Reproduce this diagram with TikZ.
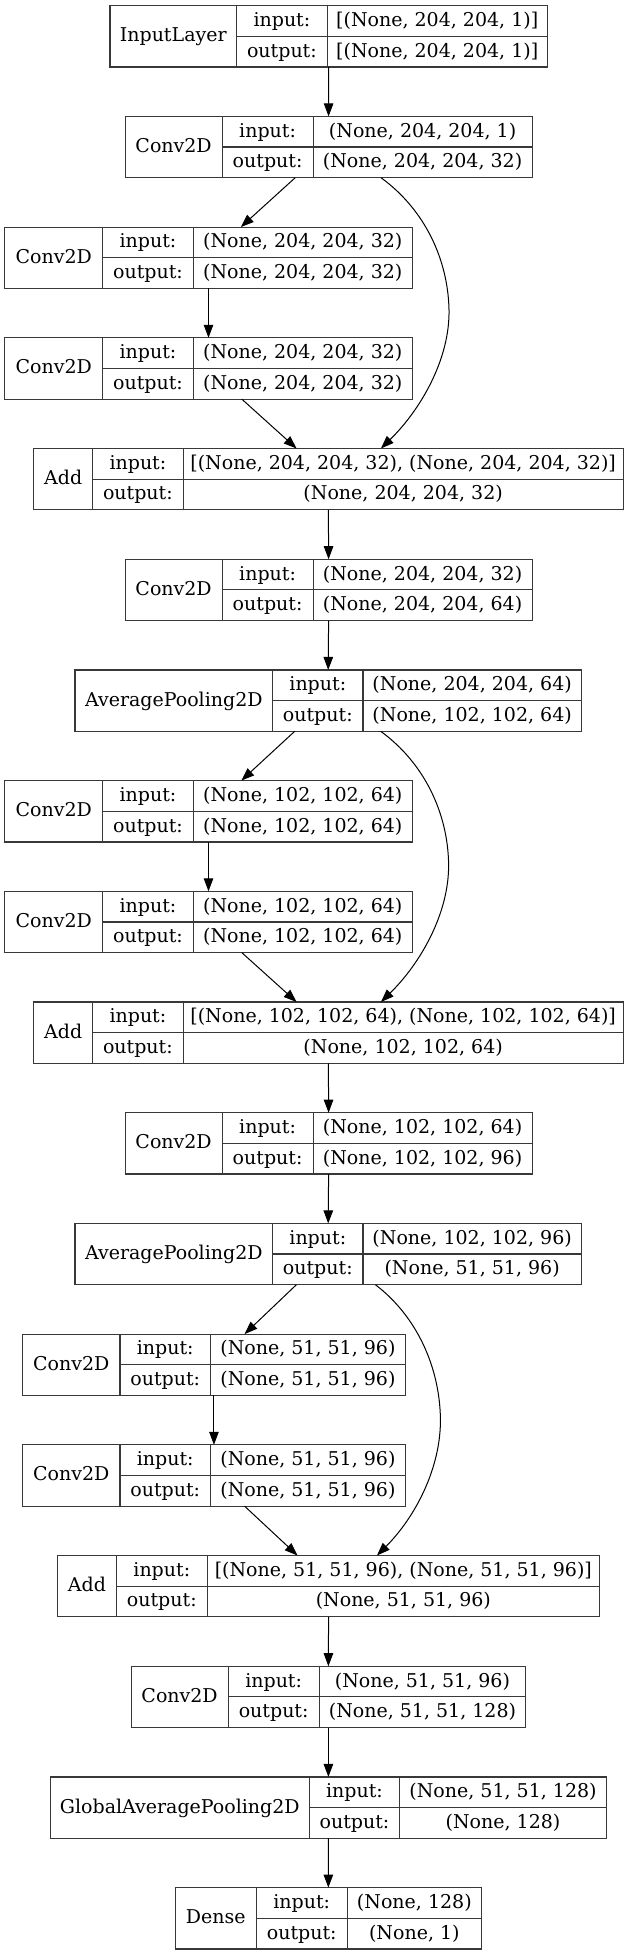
\documentclass[tikz,border=0pt]{standalone}
\usepackage{fontspec}
\setmainfont{DejaVu Serif}
\usetikzlibrary{arrows.meta,calc}
\tikzset{
  layerbox/.style={draw=black!78, line width=1.2pt, inner sep=0pt, outer sep=0pt},
  cellline/.style={draw=black!78, line width=1.2pt},
  txt/.style={inner sep=0pt, font=\fontsize{19}{22}\selectfont, text height=15pt, text depth=4pt},
  arr/.style={draw=black, line width=1pt, -{Triangle[length=13pt,width=9.5pt]}},
}
\newcommand\kerasbox[9]{%
  \pgfmathsetmacro\kt{5.7+110.7*#6}%
  \pgfmathsetmacro\kb{\kt+61.3}%
  \pgfmathsetmacro\km{\kt+30.65}%
  \pgfmathsetmacro\kra{\kt+15.3}%
  \pgfmathsetmacro\krb{\km+15.3}%
  \pgfmathsetmacro\kw{#3-#2}%
  \pgfmathsetmacro\kc{(#2+#3)/2}%
  \node[layerbox, minimum width=\kw pt, minimum height=61.3pt] (#1) at (\kc,\km) {};
  \draw[cellline] (#4,\kt) -- (#4,\kb) (#5,\kt) -- (#5,\kb) (#4,\km) -- (#3,\km);
  \node[txt] (#1-name) at ({(#2+#4)/2},\km) {#7};
  \node[txt] (#1-inl) at ({(#4+#5)/2},\kra) {input:};
  \node[txt] (#1-outl) at ({(#4+#5)/2},\krb) {output:};
  \node[txt] (#1-inv) at ({(#5+#3)/2},\kra) {#8};
  \node[txt] (#1-outv) at ({(#5+#3)/2},\krb) {#9};
}
\begin{document}
\begin{tikzpicture}[x=1pt,y=-1pt]
\useasboundingbox[fill=white] (0,0) rectangle (629,1955);
\kerasbox{L1}{109.9}{547.3}{236.6}{327.2}{0}{InputLayer}{[(None, 204, 204, 1)]}{[(None, 204, 204, 1)]}
\kerasbox{L2}{125.1}{532.1}{222.1}{313.1}{1}{Conv2D}{(None, 204, 204, 1)}{(None, 204, 204, 32)}
\kerasbox{L3}{4.8}{412.2}{102.6}{193.3}{2}{Conv2D}{(None, 204, 204, 32)}{(None, 204, 204, 32)}
\kerasbox{L4}{4.8}{412.2}{102.6}{193.3}{3}{Conv2D}{(None, 204, 204, 32)}{(None, 204, 204, 32)}
\kerasbox{L5}{33.7}{623.1}{92.6}{183.2}{4}{Add}{[(None, 204, 204, 32), (None, 204, 204, 32)]}{(None, 204, 204, 32)}
\kerasbox{L6}{125.1}{532.1}{222.1}{313.1}{5}{Conv2D}{(None, 204, 204, 32)}{(None, 204, 204, 64)}
\kerasbox{L7}{75}{581.4}{272.7}{362.9}{6}{AveragePooling2D}{(None, 204, 204, 64)}{(None, 102, 102, 64)}
\kerasbox{L8}{4.8}{412.2}{102.6}{193.3}{7}{Conv2D}{(None, 102, 102, 64)}{(None, 102, 102, 64)}
\kerasbox{L9}{4.8}{412.2}{102.6}{193.3}{8}{Conv2D}{(None, 102, 102, 64)}{(None, 102, 102, 64)}
\kerasbox{L10}{33.7}{623.1}{92.6}{183.2}{9}{Add}{[(None, 102, 102, 64), (None, 102, 102, 64)]}{(None, 102, 102, 64)}
\kerasbox{L11}{125.1}{532.1}{222.1}{313.1}{10}{Conv2D}{(None, 102, 102, 64)}{(None, 102, 102, 96)}
\kerasbox{L12}{75}{581.4}{272.7}{362.9}{11}{AveragePooling2D}{(None, 102, 102, 96)}{(None, 51, 51, 96)}
\kerasbox{L13}{22.5}{405.4}{119.9}{210.5}{12}{Conv2D}{(None, 51, 51, 96)}{(None, 51, 51, 96)}
\kerasbox{L14}{22.5}{405.4}{119.9}{210.5}{13}{Conv2D}{(None, 51, 51, 96)}{(None, 51, 51, 96)}
\kerasbox{L15}{57.7}{599.4}{116.3}{207.3}{14}{Add}{[(None, 51, 51, 96), (None, 51, 51, 96)]}{(None, 51, 51, 96)}
\kerasbox{L16}{131.1}{525.7}{228.1}{319.2}{15}{Conv2D}{(None, 51, 51, 96)}{(None, 51, 51, 128)}
\kerasbox{L17}{50.5}{606.3}{309.1}{399.8}{16}{GlobalAveragePooling2D}{(None, 51, 51, 128)}{(None, 128)}
\kerasbox{L18}{175.2}{481.5}{256.2}{347.2}{17}{Dense}{(None, 128)}{(None, 1)}
% straight connectors
\draw[arr] (L1.south) -- (L2.north);
\draw[arr] ([xshift=-33.4pt]L2.south) -- ([xshift=32.3pt]L3.north);
\draw[arr] (L3.south) -- (L4.north);
\draw[arr] ([xshift=33.3pt]L4.south) -- ([xshift=-31.8pt]L5.north);
\draw[arr] (L5.south) -- (L6.north);
\draw[arr] (L6.south) -- (L7.north);
\draw[arr] ([xshift=-33.4pt]L7.south) -- ([xshift=32.8pt]L8.north);
\draw[arr] (L8.south) -- (L9.north);
\draw[arr] ([xshift=33.3pt]L9.south) -- ([xshift=-31.8pt]L10.north);
\draw[arr] (L10.south) -- (L11.north);
\draw[arr] (L11.south) -- (L12.north);
\draw[arr] ([xshift=-31.8pt]L12.south) -- ([xshift=30.6pt]L13.north);
\draw[arr] (L13.south) -- (L14.north);
\draw[arr] ([xshift=30.6pt]L14.south) -- ([xshift=-31pt]L15.north);
\draw[arr] (L15.south) -- (L16.north);
\draw[arr] (L16.south) -- (L17.north);
\draw[arr] (L17.south) -- (L18.north);
% skip connectors
\coordinate (s1) at ([xshift=52.4pt]L2.south);
\coordinate (e1) at ([xshift=52.5pt]L5.north);
\coordinate (m1) at ($(s1)+(68,132)$);
\draw[arr] (s1) .. controls +(44,32) and +(-1,-50) .. (m1) .. controls +(1,50) and +(39,-38) .. (e1);
\coordinate (s2) at ([xshift=52.4pt]L7.south);
\coordinate (e2) at ([xshift=52.5pt]L10.north);
\coordinate (m2) at ($(s2)+(68,132)$);
\draw[arr] (s2) .. controls +(44,32) and +(-1,-50) .. (m2) .. controls +(1,50) and +(39,-38) .. (e2);
\coordinate (s3) at ([xshift=47.2pt]L12.south);
\coordinate (e3) at ([xshift=48.4pt]L15.north);
\coordinate (m3) at ($(s3)+(65,133)$);
\draw[arr] (s3) .. controls +(42,32) and +(-1,-50) .. (m3) .. controls +(1,50) and +(38,-38) .. (e3);
\end{tikzpicture}
\end{document}
